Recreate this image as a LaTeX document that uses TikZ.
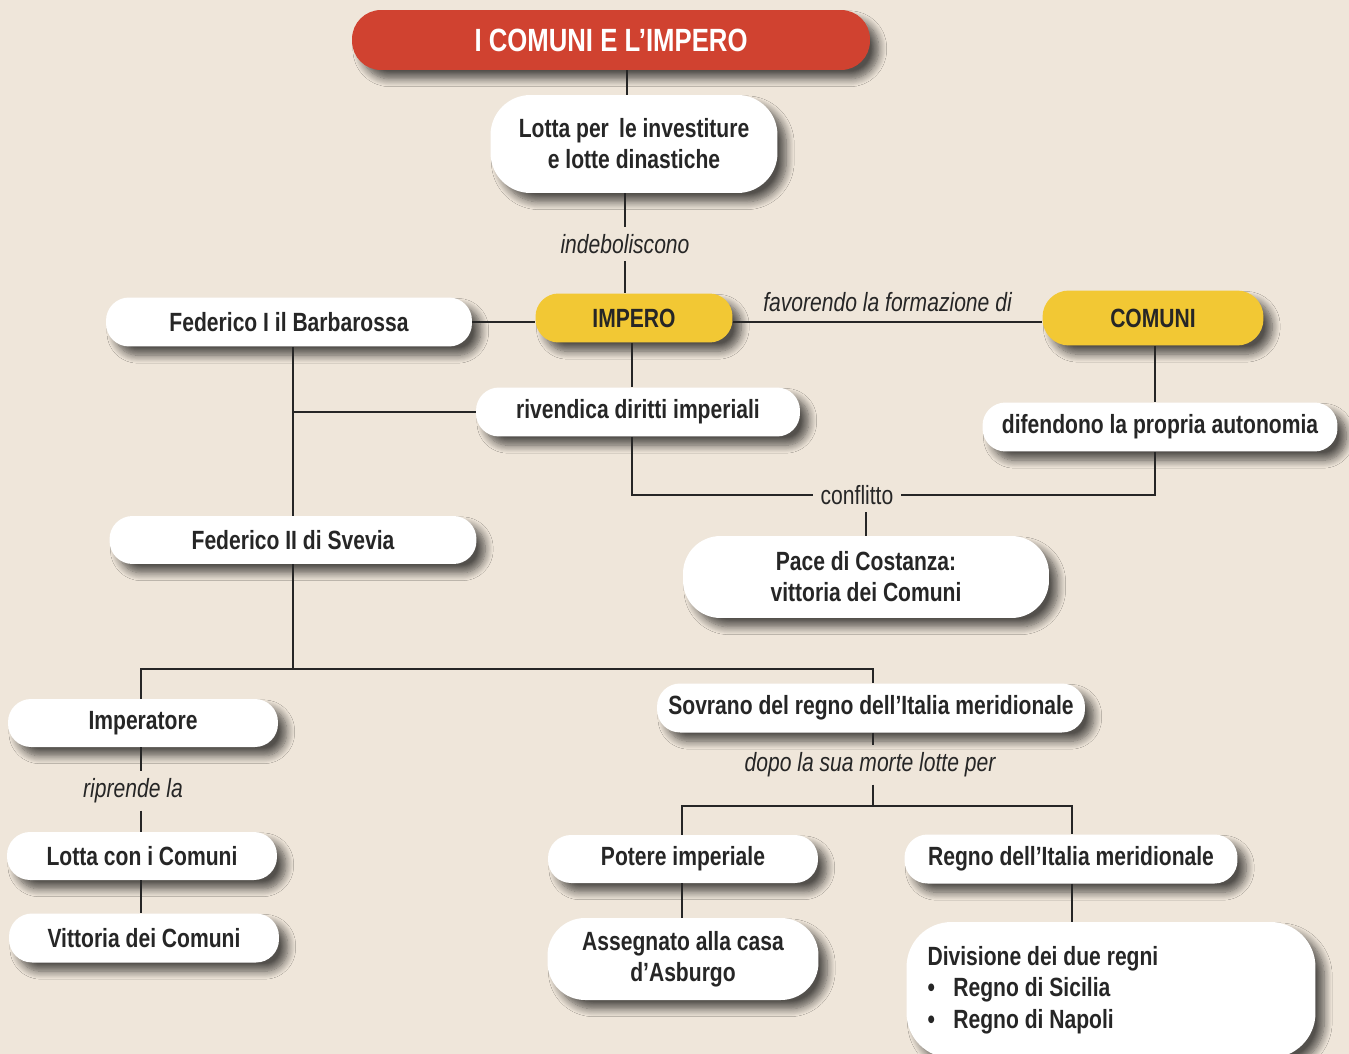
\documentclass[tikz,border=0pt]{standalone}
\usepackage{fontspec}
\setmainfont{Liberation Sans}[FakeStretch=0.8]
\usetikzlibrary{shadows.blur}

\definecolor{sfondo}{RGB}{239,230,218}
\definecolor{rosso}{RGB}{208,66,48}
\definecolor{giallo}{RGB}{242,200,52}
\definecolor{inchiostro}{RGB}{38,38,38}

\tikzset{
	box/.style={fill=white, rounded corners=0.46cm, minimum height=0.98cm, inner sep=0pt,
		text=inchiostro, font=\fontsize{15}{17.6}\selectfont\bfseries, align=center,
		blur shadow={shadow xshift=5pt, shadow yshift=-5pt, shadow blur radius=4.5pt,
			shadow blur steps=10, shadow opacity=65}},
	keybox/.style={box, fill=giallo},
	titlebox/.style={box, fill=rosso, text=white, font=\fontsize{18.3}{20}\selectfont\bfseries},
	link/.style={draw=inchiostro, line width=1.2pt},
	verbo/.style={text=inchiostro, font=\fontsize{15}{17}\selectfont\itshape, inner sep=4pt}
}

\begin{document}
\begin{tikzpicture}[x=0.02cm, y=-0.02cm]
		% 背景
		\fill[sfondo] (0, 0) rectangle (1349, 1054);
		\useasboundingbox (0, 0) rectangle (1349, 1054);

		% 上部: 标题, 帝国, 城市公社
		\node[titlebox, minimum width=10.36cm, minimum height=1.2cm, rounded corners=0.58cm] (titolo) at (611, 40) {I COMUNI E L’IMPERO};
		\node[box, minimum width=5.74cm, minimum height=1.96cm, rounded corners=0.8cm] (lotta) at (634, 144) {Lotta per\, le investiture\\e lotte dinastiche};
		\node[verbo] (indeb) at (625, 244) {indeboliscono};
		\node[keybox, minimum width=3.94cm] (impero) at (634, 318) {IMPERO};
		\node[keybox, minimum width=4.42cm, minimum height=1.1cm, rounded corners=0.53cm] (comuni) at (1153, 318) {COMUNI};
		\node[box, minimum width=7.32cm] (fed1) at (289, 322) {Federico I il Barbarossa};
		\node[box, minimum width=6.48cm] (rivend) at (638, 412) {rivendica diritti imperiali};
		\node[box, minimum width=7.1cm] (difend) at (1160, 427) {difendono la propria autonomia};
		\node[verbo] (confl) at (857, 495) {\upshape conflitto};
		\node[box, minimum width=7.32cm, minimum height=1.64cm, rounded corners=0.75cm] (pace) at (866, 577) {Pace di Costanza:\\vittoria dei Comuni};
		\node[box, minimum width=7.34cm, minimum height=0.96cm] (fed2) at (293, 540) {Federico II di Svevia};

		% 下部: 腓特烈二世
		\node[box, minimum width=5.4cm, minimum height=0.96cm] (imperat) at (143, 723) {Imperatore};
		\node[verbo] (riprende) at (133, 791) {riprende la};
		\node[box, minimum width=5.4cm, minimum height=0.96cm] (lottacom) at (142, 856) {Lotta con i Comuni};
		\node[box, minimum width=5.4cm] (vittoria) at (144, 938) {Vittoria dei Comuni};
		\node[box, minimum width=8.56cm] (sovrano) at (871, 708) {Sovrano del regno dell’Italia meridionale};
		\node[verbo] (dopo) at (870, 765) {dopo la sua morte lotte per};
		\node[box, minimum width=5.4cm, minimum height=0.96cm] (potere) at (683, 859) {Potere imperiale};
		\node[box, minimum width=5.42cm, minimum height=1.64cm, rounded corners=0.75cm] (asseg) at (683, 959) {Assegnato alla casa\\d’Asburgo};
		\node[box, minimum width=6.66cm] (regno) at (1071, 859) {Regno dell’Italia meridionale};
		\node[box, minimum width=8.18cm, minimum height=2.72cm, rounded corners=0.9cm, align=flush left, text width=7.34cm,
			font=\fontsize{15}{18}\selectfont\bfseries] (divis) at (1111, 990)
			{Divisione dei due regni\\
			\textbullet\hspace{0.7em}Regno di Sicilia\\
			\textbullet\hspace{0.7em}Regno di Napoli\\[20pt]};

		% 连线
		\draw[link] (titolo.south -| 627, 0) -- (lotta.north -| 627, 0);
		\draw[link] (lotta.south -| indeb.north) -- (indeb.north);
		\draw[link] (indeb.south) -- (indeb.south |- impero.north);
		\draw[link] (impero.east |- fed1.east) -- (comuni.west |- fed1.east)
			node[verbo, midway, above=1pt] {favorendo la formazione di};
		\draw[link] (fed1.east) -- (fed1.east -| impero.west);
		\draw[link] (impero.south -| 632, 0) -- (rivend.north -| 632, 0);
		\draw[link] (comuni.south -| 1155, 0) -- (difend.north -| 1155, 0);
		\draw[link] (rivend.south -| 632, 0) |- (confl.west);
		\draw[link] (difend.south -| 1155, 0) |- (confl.east);
		\draw[link] (confl.south -| pace.north) -- (pace.north);
		\draw[link] (fed2.north |- fed1.south) -- (fed2.north);
		\draw[link] (rivend.west) -- (rivend.west -| fed2.north);

		% 分叉
		\coordinate (bivio) at (293, 669);
		\coordinate (bivio2) at (873, 806);
		\draw[link] (fed2.south) -- (bivio);
		\draw[link] (imperat.north -| 141, 0) |- (bivio) -| (sovrano.north -| 873, 0);
		\draw[link] (imperat.south -| 141, 0) -- (riprende.north -| 141, 0);
		\draw[link] (riprende.south -| 141, 0) -- (lottacom.north -| 141, 0);
		\draw[link] (lottacom.south -| 141, 0) -- (vittoria.north -| 141, 0);
		\draw[link] (sovrano.south -| bivio2) -- (dopo.north -| bivio2);
		\draw[link] (dopo.south -| bivio2) -- (bivio2);
		\draw[link] (potere.north -| 682, 0) |- (bivio2) -| (regno.north -| 1072, 0);
		\draw[link] (potere.south -| 682, 0) -- (asseg.north -| 682, 0);
		\draw[link] (regno.south -| 1072, 0) -- (divis.north -| 1072, 0);
	\end{tikzpicture}
\end{document}
